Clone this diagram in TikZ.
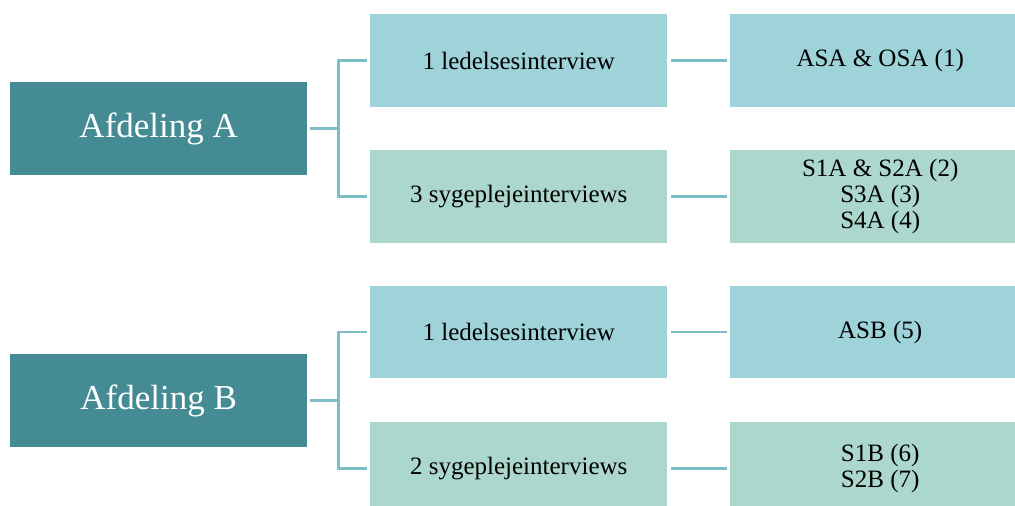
\documentclass[tikz,border=0pt]{standalone}
\usepackage{fontspec}
\setmainfont{LiberationSerif}[Extension=.ttf, UprightFont=*-Regular, BoldFont=*-Bold]
\usetikzlibrary{calc}
\definecolor{deptteal}{HTML}{448B94}
\definecolor{leadblue}{HTML}{9DD3D9}
\definecolor{nursegreen}{HTML}{ACD7CC}
\definecolor{linkteal}{HTML}{7DBDC6}
\tikzset{
  dept/.style={fill=deptteal, text=white, inner sep=0pt, anchor=north west,
    font=\fontsize{35}{40}\selectfont},
  leadbox/.style={fill=leadblue, inner sep=0pt, anchor=north west, align=center,
    font=\fontsize{25}{26}\selectfont},
  nursebox/.style={fill=nursegreen, inner sep=0pt, anchor=north west, align=center,
    font=\fontsize{25}{26}\selectfont},
  link/.style={draw=linkteal, line width=2.5pt}
}
\begin{document}
\begin{tikzpicture}[x=1pt,y=-1pt]
\useasboundingbox (0,0) rectangle (1015,506);
% department boxes
\node[dept, minimum width=297pt, minimum height=93pt] (depA) at (10,82) {Afdeling A};
\node[dept, minimum width=297pt, minimum height=93pt] (depB) at (10,354) {Afdeling B};
% interview kinds
\node[leadbox, minimum width=297pt, minimum height=93pt] (leadA) at (370,14) {1 ledelsesinterview};
\node[nursebox, minimum width=297pt, minimum height=93pt] (nurseA) at (370,150) {3 sygeplejeinterviews};
\node[leadbox, minimum width=297pt, minimum height=92pt] (leadB) at (370,286) {1 ledelsesinterview};
\node[nursebox, minimum width=297pt, minimum height=93pt] (nurseB) at (370,422) {2 sygeplejeinterviews};
% interviewees
\node[leadbox, minimum width=300pt, minimum height=93pt] (persA1) at (730,14) {ASA \& OSA (1)};
\node[nursebox, minimum width=300pt, minimum height=93pt] (persA2) at (730,150) {S1A \& S2A (2)\\S3A (3)\\S4A (4)};
\node[leadbox, minimum width=300pt, minimum height=92pt] (persB1) at (730,286) {ASB (5)};
\node[nursebox, minimum width=300pt, minimum height=93pt] (persB2) at (730,422) {S1B (6)\\S2B (7)};
% bracket connectors
\foreach \d/\t/\b in {depA/leadA/nurseA, depB/leadB/nurseB}{
  \coordinate (\d-j) at ($(\d.east)+(31,0)$);
  \draw[link] ($(\d.east)+(3,0)$) -- (\d-j);
  \draw[link] ($(\t.west)+(-3,0)$) -| (\d-j) |- ($(\b.west)+(-3,0)$);
}
% straight connectors
\foreach \a/\b in {leadA/persA1, nurseA/persA2, leadB/persB1, nurseB/persB2}{
  \draw[link] ($(\a.east)+(4,0)$) -- ($(\b.west)+(-3,0)$);
}
\end{tikzpicture}
\end{document}
